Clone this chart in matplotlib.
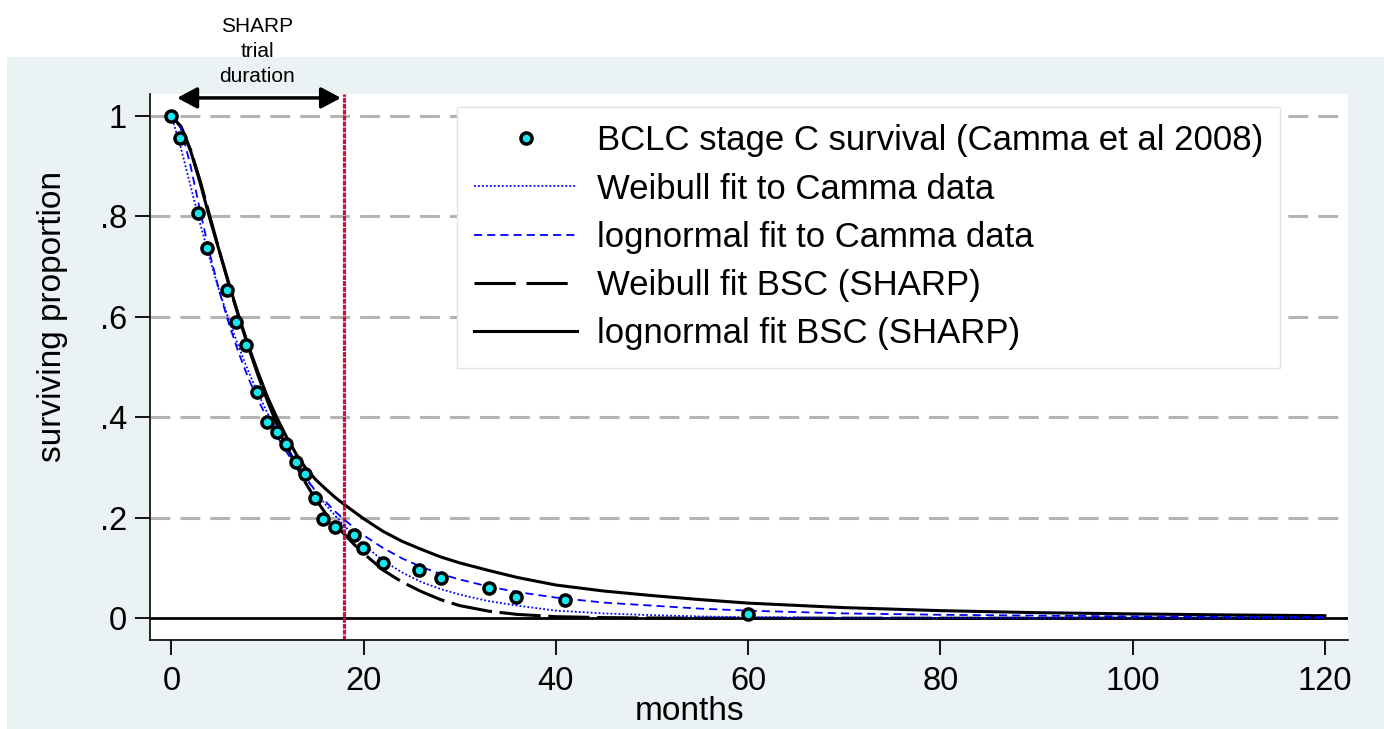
import numpy as np
import matplotlib
matplotlib.use('Agg')
from matplotlib import pyplot as plt
from matplotlib.patches import Rectangle

plt.rcParams['font.family'] = ['Liberation Sans', 'DejaVu Sans']

# BCLC stage C survival (Camma et al 2008)
camma_months = [0, 0.9, 2.75, 3.7, 5.8, 6.75, 7.8, 8.9, 9.9, 11.0, 11.9, 13.0, 13.9,
                14.9, 15.8, 17.0, 19.0, 19.9, 22.0, 25.8, 28.1, 33.0, 35.9, 41.0, 60.0]
camma_surv = [1.0, 0.955, 0.807, 0.737, 0.653, 0.59, 0.544, 0.45, 0.39, 0.371, 0.346, 0.311, 0.286,
              0.239, 0.197, 0.182, 0.165, 0.139, 0.110, 0.096, 0.079, 0.060, 0.042, 0.036, 0.009]

# fitted curves at these months
fit_months = [0, 1, 2, 3, 4, 5, 6, 7, 8, 9, 10, 11, 12, 13, 14, 15, 16, 17, 18, 19, 20,
              22, 24, 26, 28, 30, 33, 36, 40, 45, 50, 55, 60, 70, 80, 90, 100, 110, 120]
weibull_camma = [1.0, 0.935, 0.86, 0.785, 0.715, 0.65, 0.593, 0.54, 0.492, 0.448, 0.408,
                 0.373, 0.34, 0.309, 0.28, 0.252, 0.227, 0.205, 0.184, 0.164, 0.146,
                 0.115, 0.091, 0.072, 0.058, 0.047, 0.034, 0.025, 0.015, 0.0095, 0.006,
                 0.0035, 0.002, 0.0006, 0.0002, 0.0001, 0.0, 0.0, 0.0]
lognormal_camma = [1.0, 0.975, 0.9, 0.81, 0.725, 0.65, 0.585, 0.528, 0.478, 0.435, 0.397,
                   0.362, 0.33, 0.302, 0.277, 0.254, 0.233, 0.213, 0.196, 0.18, 0.165,
                   0.14, 0.119, 0.102, 0.088, 0.077, 0.063, 0.052, 0.041, 0.031, 0.025,
                   0.019, 0.015, 0.0095, 0.0068, 0.005, 0.0037, 0.0028, 0.0022]
weibull_bsc = [1.0, 0.978, 0.932, 0.87, 0.8, 0.73, 0.663, 0.6, 0.54, 0.484, 0.432,
               0.385, 0.342, 0.303, 0.268, 0.237, 0.21, 0.187, 0.167, 0.147, 0.129,
               0.096, 0.072, 0.053, 0.037, 0.025, 0.014, 0.0075, 0.003, 0.0012, 0.0004,
               0.0001, 0.0, 0.0, 0.0, 0.0, 0.0, 0.0, 0.0]
lognormal_bsc = [1.0, 0.978, 0.93, 0.866, 0.795, 0.73, 0.665, 0.602, 0.543, 0.49, 0.44,
                 0.398, 0.36, 0.326, 0.298, 0.276, 0.258, 0.241, 0.226, 0.212, 0.198,
                 0.173, 0.153, 0.137, 0.122, 0.11, 0.095, 0.081, 0.066, 0.054, 0.045,
                 0.037, 0.03, 0.021, 0.015, 0.011, 0.0085, 0.0065, 0.005]

trial_end = 18
x_ticks = [0, 20, 40, 60, 80, 100, 120]
y_ticks = [0, 0.2, 0.4, 0.6, 0.8, 1.0]
y_ticklabels = ['0', '.2', '.4', '.6', '.8', '1']

W, H = 1384, 729
fig = plt.figure(figsize=(W / 100, H / 100), dpi=100)
fig.patch.set_facecolor('white')
fig.patches.append(Rectangle((7 / W, 0), 1 - 7 / W, 1 - 57 / H, transform=fig.transFigure,
                             facecolor='#EAF2F3', edgecolor='none', zorder=-5))

ax = fig.add_axes([150 / W, 1 - 640 / H, 1198 / W, 546 / H])
ax.set_zorder(1)
ax.set_facecolor('white')
ax.set_xlim(-2.22, 122.4)
ax.set_ylim(-0.0434, 1.043)

for y in y_ticks[1:]:
    ax.axhline(y, color='#B4B4B4', lw=2.2, ls=(0, (6.5, 3.3)), zorder=1)
ax.axhline(0, color='black', lw=2.0, zorder=1.5)

ax.plot(camma_months, camma_surv, 'o', ms=8, mfc='#18E6F0', mec='black', mew=2.5,
        zorder=4, label='BCLC stage C survival (Camma et al 2008)')
ax.plot(fit_months, weibull_camma, color='#0000FF', lw=1.3, ls=(0, (1, 1.2)),
        zorder=3, label='Weibull fit to Camma data')
ax.plot(fit_months, lognormal_camma, color='#0000FF', lw=1.3, ls=(0, (4.5, 2.8)),
        zorder=3, label='lognormal fit to Camma data')
ax.plot(fit_months, weibull_bsc, color='black', lw=2.2, ls=(0, (13.5, 2.5)),
        zorder=2, label='Weibull fit BSC (SHARP)')
ax.plot(fit_months, lognormal_bsc, color='black', lw=2.2, ls='-',
        zorder=2, label='lognormal fit BSC (SHARP)')

ax.axvline(trial_end, color='#D0103C', lw=2.3, ls=(0, (1.5, 0.35)), zorder=2.5)

# trial duration arrow above the plot
ax.annotate('', xy=(17.65, 1.0352), xytext=(0.6, 1.0352),
            arrowprops=dict(arrowstyle='<|-|>,head_length=0.6,head_width=0.32',
                            mutation_scale=20, lw=2.5, color='black',
                            shrinkA=0, shrinkB=0),
            annotation_clip=False, zorder=5)
for txt, ypx in [('SHARP', 32), ('trial', 57), ('duration', 82)]:
    fig.text(257 / W, 1 - ypx / H, txt, ha='center', va='baseline', fontsize=15)

for side in ['top', 'right']:
    ax.spines[side].set_visible(False)
for side in ['left', 'bottom']:
    ax.spines[side].set_linewidth(1.2)
ax.set_xticks(x_ticks)
ax.set_yticks(y_ticks)
ax.set_yticklabels(y_ticklabels)
ax.tick_params(axis='both', direction='out', length=10.5, width=1.3, labelsize=23.5)
ax.tick_params(axis='y', pad=6)
ax.tick_params(axis='x', pad=8)

ax.set_ylabel('surviving proportion', fontsize=24)
ax.yaxis.set_label_coords((68 - 150) / 1198, (640 - 317) / 546)
ax.set_xlabel('months', fontsize=24, va='center')
ax.xaxis.set_label_coords((690 - 150) / 1198, (640 - 712) / 546)

leg = ax.legend(loc='upper left', bbox_to_anchor=(457 / W, 1 - 107 / H),
                bbox_transform=fig.transFigure, borderaxespad=0, fontsize=25,
                handlelength=2.97, handletextpad=0.55, labelspacing=0.44,
                borderpad=0.5, numpoints=1, fancybox=False, framealpha=1,
                edgecolor='#DCE6E8')
leg.get_frame().set_linewidth(1.0)
leg.set_zorder(10)
# two clean dashes for the long-dash key
leg.legend_handles[3].set_linestyle((0, (13.5, 3.5)))

fig.savefig('out.png', dpi=100)
